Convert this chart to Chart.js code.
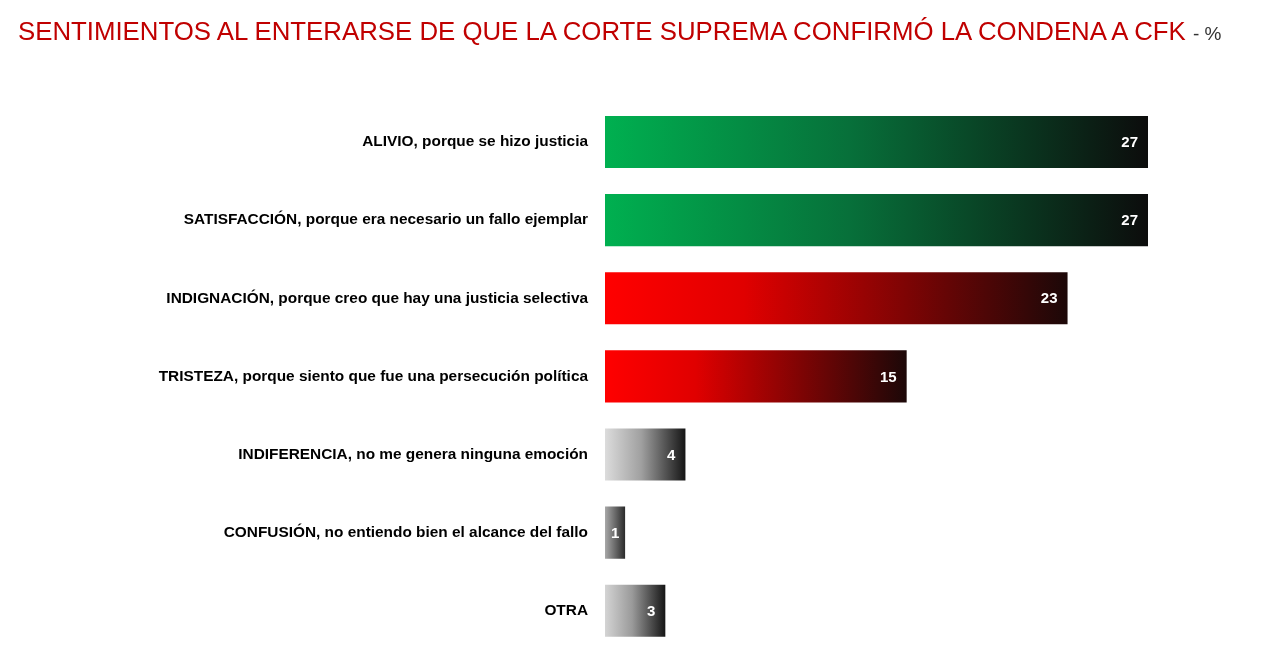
<!DOCTYPE html>
<html>
<head>
<meta charset="utf-8">
<script src="https://cdn.jsdelivr.net/npm/chart.js@4"></script>
<style>
  html, body { margin: 0; padding: 0; background: #fff; overflow: hidden; }
  #wrap { position: relative; width: 1280px; height: 655px; overflow: hidden; }
  #title { position: absolute; left: 18px; top: 17px; font-family: "Liberation Sans", Arial, sans-serif; font-size: 25.8px; color: #c00000; white-space: nowrap; z-index: 2; }
  #title span { color: #333; font-size: 19px; }
  canvas { position: absolute; left: 0; top: 0; }
</style>
</head>
<body>
<div id="wrap">
  <div id="title">SENTIMIENTOS AL ENTERARSE DE QUE LA CORTE SUPREMA CONFIRMÓ LA CONDENA A CFK <span>- %</span></div>
  <canvas id="c" width="1280" height="668"></canvas>
</div>
<script>
const categories = [
  "ALIVIO, porque se hizo justicia",
  "SATISFACCIÓN, porque era necesario un fallo ejemplar",
  "INDIGNACIÓN, porque creo que hay una justicia selectiva",
  "TRISTEZA, porque siento que fue una persecución política",
  "INDIFERENCIA, no me genera ninguna emoción",
  "CONFUSIÓN, no entiendo bien el alcance del fallo",
  "OTRA"
];
const values = [27, 27, 23, 15, 4, 1, 3];
const gradStart = ["#00b050", "#00b050", "#ff0000", "#ff0000", "#dcdcdc", "#a8a8a8", "#d4d4d4"];
const gradMid   = ["#07703a", "#07703a", "#e00000", "#e00000", "#a0a0a0", "#707070", "#9a9a9a"];
const gradEnd   = ["#0c0c0c", "#0c0c0c", "#1c0808", "#1c0808", "#151515", "#2a2a2a", "#151515"];

function barGradient(ctx) {
  const chart = ctx.chart;
  const area = chart.chartArea;
  const i = ctx.dataIndex;
  if (!area || i === undefined) return gradStart[i || 0];
  const xs = chart.scales.x;
  const x0 = xs.getPixelForValue(0);
  const x1 = xs.getPixelForValue(values[i]);
  const g = chart.ctx.createLinearGradient(x0, 0, x1, 0);
  g.addColorStop(0, gradStart[i]);
  g.addColorStop(i === 2 || i === 3 ? 0.3 : 0.45, gradMid[i]);
  g.addColorStop(1, gradEnd[i]);
  return g;
}

const valueLabels = {
  id: 'valueLabels',
  afterDatasetsDraw(chart) {
    const c = chart.ctx;
    const meta = chart.getDatasetMeta(0);
    c.save();
    c.font = 'bold 15px "Liberation Sans", Arial, sans-serif';
    c.fillStyle = '#ffffff';
    c.textBaseline = 'middle';
    meta.data.forEach((bar, i) => {
      const v = values[i];
      if (v <= 1) {
        c.textAlign = 'center';
        c.fillText(String(v), (bar.x + bar.base) / 2, bar.y + 1);
      } else {
        c.textAlign = 'right';
        c.fillText(String(v), bar.x - 10, bar.y + 1);
      }
    });
    c.restore();
  }
};

new Chart(document.getElementById('c'), {
  type: 'bar',
  data: {
    labels: categories,
    datasets: [{
      data: values,
      backgroundColor: barGradient,
      borderWidth: 0,
      barPercentage: 0.667,
      categoryPercentage: 1.0
    }]
  },
  options: {
    indexAxis: 'y',
    responsive: false,
    animation: false,
    layout: { padding: { top: 103, bottom: -28, right: 132, left: 0 } },
    plugins: { legend: { display: false }, tooltip: { enabled: false }, title: { display: false } },
    scales: {
      x: { display: false, min: 0, max: 27 },
      y: {
        grid: { display: false, drawBorder: false },
        border: { display: false },
        ticks: {
          color: '#000',
          padding: 9,
          font: { family: '"Liberation Sans", Arial, sans-serif', size: 15.4, weight: 'bold' }
        },
        afterFit(scale) { scale.width = 605; }
      }
    }
  },
  plugins: [valueLabels]
});
</script>
</body>
</html>
